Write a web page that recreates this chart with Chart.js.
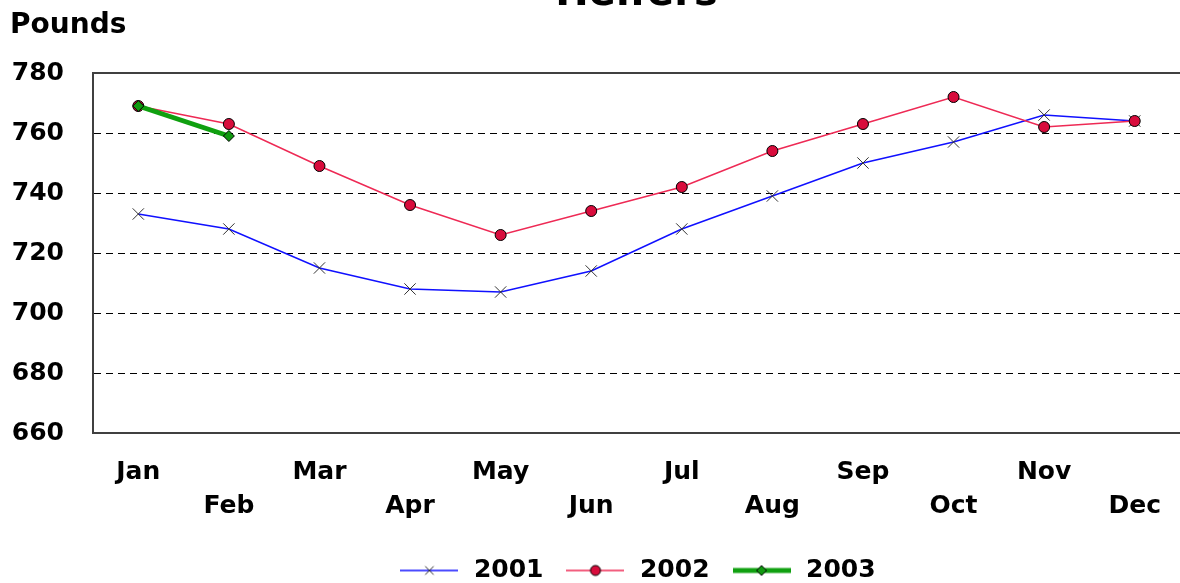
<!DOCTYPE html>
<html>
<head>
<meta charset="utf-8">
<title>Heifers</title>
<script src="https://cdn.jsdelivr.net/npm/chart.js@4"></script>
<style>
    html, body { margin: 0; padding: 0; background: #fff; overflow: hidden; }
    #wrap { position: relative; width: 1180px; height: 593px; }
</style>
</head>
<body>
<div id="wrap"><canvas id="myChart"></canvas></div>
<script>
// 차트 데이터
const months = ['Jan', 'Feb', 'Mar', 'Apr', 'May', 'Jun', 'Jul', 'Aug', 'Sep', 'Oct', 'Nov', 'Dec'];
const yTicks = [660, 680, 700, 720, 740, 760, 780];
const heifers2001 = [733, 728, 715, 708, 707, 714, 728, 739, 750, 757, 766, 764];
const heifers2002 = [769, 763, 749, 736, 726, 734, 742, 754, 763, 772, 762, 764];
const heifers2003 = [769, 759];

const FONT = 'DejaVu Sans';

// 범례용 선 + 마커 이미지
function legendImage(ds) {
    const c = document.createElement('canvas');
    c.width = 58;
    c.height = 20;
    const g = c.getContext('2d');
    g.strokeStyle = ds.borderColor;
    g.lineWidth = ds.borderWidth;
    g.beginPath();
    g.moveTo(0, 10);
    g.lineTo(58, 10);
    g.stroke();
    g.fillStyle = ds.pointBackgroundColor;
    g.strokeStyle = ds.pointBorderColor;
    g.lineWidth = 1;
    Chart.helpers.drawPoint(g, { pointStyle: ds.pointStyle, radius: ds.legendRadius, borderWidth: 1, rotation: 0 }, 29, 10);
    return c;
}

// 제목, 단위, 위쪽 테두리
const extras = {
    id: 'extras',
    afterDraw(chart) {
        const ctx = chart.ctx;
        const area = chart.chartArea;
        ctx.save();
        ctx.strokeStyle = '#404040';
        ctx.lineWidth = 2;
        ctx.beginPath();
        ctx.moveTo(area.left, area.top);
        ctx.lineTo(area.right, area.top);
        ctx.stroke();

        ctx.fillStyle = '#000';
        ctx.textBaseline = 'alphabetic';
        ctx.textAlign = 'center';
        ctx.font = 'bold 40px "' + FONT + '"';
        ctx.fillText('Heifers', (area.left + area.right) / 2, 5);
        ctx.textAlign = 'left';
        ctx.font = 'bold 28px "' + FONT + '"';
        ctx.fillText('Pounds', 10, 33);
        ctx.restore();
    }
};

const ctx = document.getElementById('myChart').getContext('2d');
const myChart = new Chart(ctx, {
    type: 'line',
    data: {
        labels: months,
        datasets: [{
            label: '2001',
            data: heifers2001,
            borderColor: '#1010ff',
            borderWidth: 1.5,
            pointStyle: 'crossRot',
            pointRadius: 8,
            pointBorderColor: '#333',
            pointBackgroundColor: '#333',
            pointBorderWidth: 1,
            legendRadius: 6,
            order: 2
        }, {
            label: '2002',
            data: heifers2002,
            borderColor: '#ee2a55',
            borderWidth: 1.5,
            pointStyle: 'circle',
            pointRadius: 5.5,
            pointBorderColor: '#000',
            pointBackgroundColor: '#d80c3c',
            pointBorderWidth: 1,
            legendRadius: 5,
            order: 1
        }, {
            label: '2003',
            data: heifers2003,
            borderColor: '#10a010',
            borderWidth: 5,
            pointStyle: 'rectRot',
            pointRadius: 5.5,
            pointBorderColor: '#000',
            pointBackgroundColor: '#109910',
            pointBorderWidth: 1,
            legendRadius: 5,
            order: 0
        }]
    },
    options: {
        responsive: true,
        maintainAspectRatio: false,
        animation: false,
        layout: {
            autoPadding: false,
            padding: { left: 10, right: 0, top: 73, bottom: 0 }
        },
        elements: {
            line: { tension: 0, fill: false }
        },
        plugins: {
            tooltip: { enabled: false },
            legend: {
                display: true,
                position: 'bottom',
                fullSize: false,
                labels: {
                    usePointStyle: true,
                    pointStyleWidth: 64,
                    padding: 20,
                    color: '#000',
                    font: { family: FONT, size: 25, weight: 'bold' },
                    generateLabels: function(chart) {
                        return chart.data.datasets.map((ds, i) => ({
                            text: ds.label,
                            pointStyle: legendImage(ds),
                            fillStyle: ds.borderColor,
                            strokeStyle: ds.borderColor,
                            lineWidth: 0,
                            fontColor: '#000',
                            hidden: false,
                            datasetIndex: i
                        }));
                    }
                }
            }
        },
        scales: {
            x: {
                offset: true,
                afterFit: function(scale) {
                    scale.height = 105;
                    scale.paddingLeft = 0;
                    scale.paddingRight = 0;
                },
                grid: { display: false, drawTicks: false },
                border: { display: true, color: '#404040', width: 2 },
                ticks: {
                    autoSkip: false,
                    maxRotation: 0,
                    padding: 22,
                    color: '#000',
                    font: { family: FONT, size: 25, weight: 'bold', lineHeight: 1.36 },
                    callback: function(value, index) {
                        return index % 2 === 0 ? [months[index], ''] : ['', months[index]];
                    }
                }
            },
            y: {
                min: yTicks[0],
                max: yTicks[yTicks.length - 1],
                afterFit: function(scale) { scale.width = 83; },
                afterBuildTicks: function(scale) {
                    scale.ticks = yTicks.map(v => ({ value: v }));
                },
                grid: {
                    drawTicks: false,
                    lineWidth: 1,
                    color: function(c) {
                        const v = c.tick ? c.tick.value : null;
                        return (v === yTicks[0] || v === yTicks[yTicks.length - 1]) ? 'rgba(0,0,0,0)' : '#000';
                    }
                },
                border: {
                    display: true,
                    color: '#404040',
                    width: 2,
                    dash: function(c) { return c.tick ? [7, 5] : []; }
                },
                ticks: {
                    padding: 29,
                    color: '#000',
                    font: { family: FONT, size: 25, weight: 'bold' }
                }
            }
        }
    },
    plugins: [extras]
});
</script>
</body>
</html>
